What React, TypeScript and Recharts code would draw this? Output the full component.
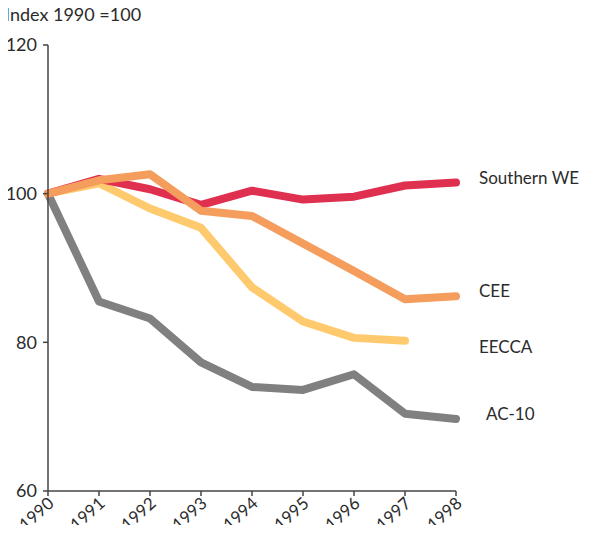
import { LineChart, Line, XAxis, YAxis, ReferenceDot } from "recharts"

const years = ["1990", "1991", "1992", "1993", "1994", "1995", "1996", "1997", "1998"]
const southernWE = [100, 102.0, 100.6, 98.5, 100.4, 99.2, 99.6, 101.1, 101.5]
const cee = [100, 101.8, 102.6, 97.7, 97.0, 93.3, 89.6, 85.8, 86.2]
const eecca: (number | null)[] = [100, 101.4, 98.0, 95.4, 87.4, 82.8, 80.6, 80.2, null]
const ac10 = [100, 85.5, 83.2, 77.3, 74.0, 73.6, 75.7, 70.4, 69.7]
const yTicks = [60, 80, 100, 120]

const labels = [
  { name: "Southern WE", y: 101.5, dx: 23 },
  { name: "CEE", y: 86.3, dx: 23 },
  { name: "EECCA", y: 78.7, dx: 23 },
  { name: "AC-10", y: 69.7, dx: 30 },
]

const data = years.map((year, i) => ({
  year,
  southernWE: southernWE[i],
  cee: cee[i],
  eecca: eecca[i],
  ac10: ac10[i],
}))

const FONT = "Lato, 'Noto Sans', sans-serif"
const TEXT = "#2b2b2b"

// rotated year labels under the axis
function YearTick({ x, y, payload }: any) {
  return (
    <g transform={`translate(${x + 7},${y + 7})`}>
      <text transform="rotate(-42)" textAnchor="end"
        fontSize={17} fill={TEXT} fontFamily={FONT}>
        {payload.value}
      </text>
    </g>
  )
}

export default function App() {
  return (
    <div style={{ position: "relative", width: 590, height: 533, background: "#fff", margin: -8 }}>
      <LineChart width={590} height={533} data={data}
        margin={{ top: 45, right: 134, left: 0, bottom: 0 }}>
        <XAxis dataKey="year" height={42} tick={<YearTick />} tickSize={5}
          interval={0} stroke="#444" strokeWidth={1.5} padding={{ left: 0, right: 0 }} />
        <YAxis domain={[60, 120]} ticks={yTicks} width={48} tickSize={5} tickMargin={6}
          stroke="#444" strokeWidth={1.5}
          tick={{ fontSize: 18, fill: TEXT, fontFamily: FONT }} />
        <Line dataKey="ac10" stroke="#808080" strokeWidth={8} dot={false}
          strokeLinecap="round" strokeLinejoin="round" isAnimationActive={false} />
        <Line dataKey="eecca" stroke="#FFCA6E" strokeWidth={8} dot={false}
          strokeLinecap="round" strokeLinejoin="round" isAnimationActive={false} />
        <Line dataKey="southernWE" stroke="#E0304F" strokeWidth={8} dot={false}
          strokeLinecap="round" strokeLinejoin="round" isAnimationActive={false} />
        <Line dataKey="cee" stroke="#F59D5D" strokeWidth={8} dot={false}
          strokeLinecap="round" strokeLinejoin="round" isAnimationActive={false} />
        {labels.map((l) => (
          <ReferenceDot key={l.name} x="1998" y={l.y} r={0} ifOverflow="visible"
            label={(p: any) => (
              <text x={p.viewBox.x + l.dx} y={p.viewBox.y} dy={1} fontSize={17}
                fill={TEXT} fontFamily={FONT}>
                {l.name}
              </text>
            )} />
        ))}
      </LineChart>
      <div style={{ position: "absolute", left: 5, top: 3, zIndex: 2, fontSize: 18, color: TEXT, fontFamily: FONT }}>
        Index 1990 =100
      </div>
    </div>
  )
}
